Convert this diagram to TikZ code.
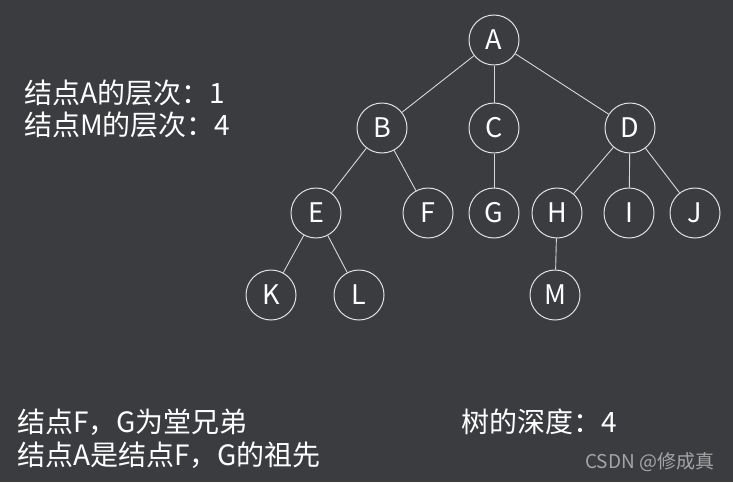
\documentclass[tikz,border=0pt]{standalone}
\usepackage{fontspec}
\setmainfont{Noto Sans CJK SC}
\definecolor{bgc}{RGB}{59,60,64}
\definecolor{edgec}{RGB}{215,215,215}
\definecolor{ringc}{RGB}{225,225,225}
\definecolor{markc}{RGB}{165,165,165}
\tikzset{
  treenode/.style={circle, draw=ringc, line width=1pt, minimum size=50pt, inner sep=0pt,
    text=white, font=\fontsize{27}{31}\selectfont},
  treeedge/.style={draw=edgec, line width=0.9pt},
  note/.style={anchor=base west, inner sep=0pt, text=white, font=\fontsize{28}{33}\selectfont},
  wmark/.style={anchor=base west, inner sep=0pt, text=markc, font=\fontsize{19}{22}\selectfont}
}
\begin{document}
\begin{tikzpicture}[x=1pt,y=-1pt]
\fill[bgc] (0,0) rectangle (733,482);
\useasboundingbox (0,0) rectangle (733,482);
\node[treenode] (A) at (494,40) {A};
\node[treenode] (B) at (382,128) {B};
\node[treenode] (C) at (494,128) {C};
\node[treenode] (D) at (630,128) {D};
\node[treenode] (E) at (316,213) {E};
\node[treenode] (F) at (428,213) {F};
\node[treenode] (G) at (494,213) {G};
\node[treenode] (H) at (557,213) {H};
\node[treenode] (I) at (629,213) {I};
\node[treenode] (J) at (695,213) {J};
\node[treenode] (K) at (271,295) {K};
\node[treenode] (L) at (359,295) {L};
\node[treenode] (M) at (555,295) {M};
\draw[treeedge] (A) -- (B);
\draw[treeedge] (A) -- (C);
\draw[treeedge] (A) -- (D);
\draw[treeedge] (B) -- (E);
\draw[treeedge] (B) -- (F);
\draw[treeedge] (C) -- (G);
\draw[treeedge] (D) -- (H);
\draw[treeedge] (D) -- (I);
\draw[treeedge] (D) -- (J);
\draw[treeedge] (E) -- (K);
\draw[treeedge] (E) -- (L);
\draw[treeedge] (H) -- (M);
\node[note] (t1) at (24,103) {结点A的层次：1};
\node[note] (t2) at (24,135) {结点M的层次：4};
\node[note] (t3) at (17,432) {结点F，G为堂兄弟};
\node[note] (t4) at (17,465) {结点A是结点F，G的祖先};
\node[note] (t5) at (461,432) {树的深度：4};
\node[wmark] (wm) at (585,468) {CSDN @修成真};
\end{tikzpicture}
\end{document}
